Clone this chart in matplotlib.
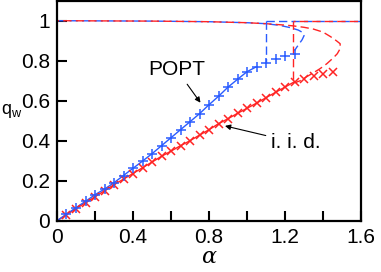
import numpy as np
import matplotlib
matplotlib.use("Agg")
import matplotlib.pyplot as plt
from matplotlib.ticker import MultipleLocator

# --- data ------------------------------------------------------------------
alpha_pts = [0.05, 0.10, 0.15, 0.20, 0.25, 0.30, 0.35, 0.40, 0.45, 0.50,
             0.55, 0.60, 0.65, 0.70, 0.75, 0.80, 0.85, 0.90, 0.95, 1.00,
             1.05, 1.10, 1.15, 1.20, 1.25, 1.30, 1.35, 1.40, 1.45]

# POPT (blue, "+"), markers up to 1.25
popt_q = [0.033, 0.065, 0.097, 0.130, 0.158, 0.190, 0.226, 0.262, 0.298, 0.335,
          0.375, 0.415, 0.455, 0.495, 0.535, 0.580, 0.622, 0.668, 0.707, 0.745,
          0.770, 0.790, 0.810, 0.822, 0.835]

# i.i.d. (red, "x"), markers up to 1.45
iid_q = [0.030, 0.060, 0.090, 0.120, 0.150, 0.180, 0.208, 0.236, 0.265, 0.293,
         0.322, 0.348, 0.375, 0.400, 0.428, 0.455, 0.485, 0.510, 0.537, 0.562,
         0.588, 0.615, 0.642, 0.668, 0.695, 0.710, 0.722, 0.732, 0.742]

# theory: upper branch bending back (dashed)
popt_upper_a = [0.0, 0.5, 0.8, 1.0, 1.1, 1.17, 1.23, 1.27, 1.295, 1.30, 1.29,
                1.275, 1.26, 1.25]
popt_upper_q = [1.0, 0.998, 0.995, 0.99, 0.985, 0.977, 0.965, 0.953, 0.94,
                0.925, 0.905, 0.885, 0.865, 0.85]
iid_upper_a = [0.0, 0.5, 0.8, 1.0, 1.1, 1.2, 1.244, 1.3, 1.35, 1.40, 1.44,
               1.47, 1.49, 1.49, 1.475, 1.455, 1.42, 1.384, 1.35, 1.314, 1.28,
               1.253]
iid_upper_q = [1.0, 0.998, 0.995, 0.99, 0.985, 0.978, 0.974, 0.967, 0.958,
               0.943, 0.92, 0.90, 0.885, 0.86, 0.835, 0.815, 0.785, 0.76, 0.74,
               0.72, 0.70, 0.69]

# transition points
popt_ac, popt_jump_lo = 1.10, 0.79
iid_ac, iid_jump_lo = 1.244, 0.69

blue = "#2a5cff"
red = "#ff2424"
dash_b = (0, (6, 3))
dash_r = (4.5, (6, 3))

plt.rcParams["font.family"] = ["Liberation Sans", "DejaVu Sans"]
plt.rcParams["mathtext.fontset"] = "custom"
plt.rcParams["mathtext.rm"] = "Liberation Sans"
plt.rcParams["mathtext.it"] = "DejaVu Serif:italic"

fig = plt.figure(figsize=(3.81, 2.72), dpi=100)
ax = fig.add_axes([0.1496, 0.1886, 0.798, 0.8088])

a = np.array(alpha_pts)
n_b = len(popt_q)
n_r = len(iid_q)

# dashed theory curves
ax.plot(popt_upper_a, popt_upper_q, color=blue, lw=1.0, ls=dash_b)
ax.plot(iid_upper_a, iid_upper_q, color=red, lw=1.0, ls=dash_r)
ax.plot([iid_ac, iid_ac], [1.0, iid_jump_lo], color=red, lw=1.0, ls=dash_b)
ax.plot([popt_ac, popt_ac], [1.0, popt_jump_lo], color=blue, lw=1.0, ls=dash_b)
ax.plot([popt_ac, 1.6], [1.0, 1.0], color=blue, lw=1.0, ls=dash_b)
ax.plot([iid_ac, 1.6], [1.0, 1.0], color=red, lw=1.0, ls=dash_r)

# solid lines through the lower branch
ax.plot(np.r_[0, a[:25]], np.r_[0, iid_q[:25]], color=red, lw=1.0)
ax.plot(np.r_[0, a[:21]], np.r_[0, popt_q[:21]], color=blue, lw=1.0)

# markers
ax.plot(a[:n_r], iid_q, ls="none", marker="x", ms=5.5, mew=1.1, color=red)
ax.plot(a[:n_b], popt_q, ls="none", marker="+", ms=6.5, mew=1.1, color=blue)

ax.annotate("POPT", xy=(0.755, 0.59), xytext=(0.63, 0.755),
            ha="center", va="center", fontsize=15,
            arrowprops=dict(arrowstyle="-|>", color="black", lw=0.8,
                            shrinkA=2, shrinkB=0, mutation_scale=8))
ax.annotate("i. i. d.", xy=(0.884, 0.474), xytext=(1.258, 0.39),
            ha="center", va="center", fontsize=15,
            arrowprops=dict(arrowstyle="-|>", color="black", lw=0.8,
                            shrinkA=2, shrinkB=0, mutation_scale=8))

ax.set_xlim(0, 1.6)
ax.set_ylim(0, 1.1)
ax.xaxis.set_minor_locator(MultipleLocator(0.2))
ax.set_xticks([0, 0.4, 0.8, 1.2, 1.6])
ax.set_xticklabels(["0", "0.4", "0.8", "1.2", "1.6"])
ax.set_yticks([0, 0.2, 0.4, 0.6, 0.8, 1.0])
ax.set_yticklabels(["0", "0.2", "0.4", "0.6", "0.8", "1"])
ax.tick_params(which="both", direction="in", length=7, width=1.5,
               labelsize=15, pad=5)
for s in ax.spines.values():
    s.set_linewidth(1.6)

ax.set_xlabel(r"$\alpha$", fontsize=16, labelpad=0)
ax.set_ylabel(r"q$_\mathrm{w}$", fontsize=13, rotation=0, ha="center",
              va="center")
ax.yaxis.set_label_coords(-0.15, 0.5)

fig.savefig("out.png", dpi=100)
